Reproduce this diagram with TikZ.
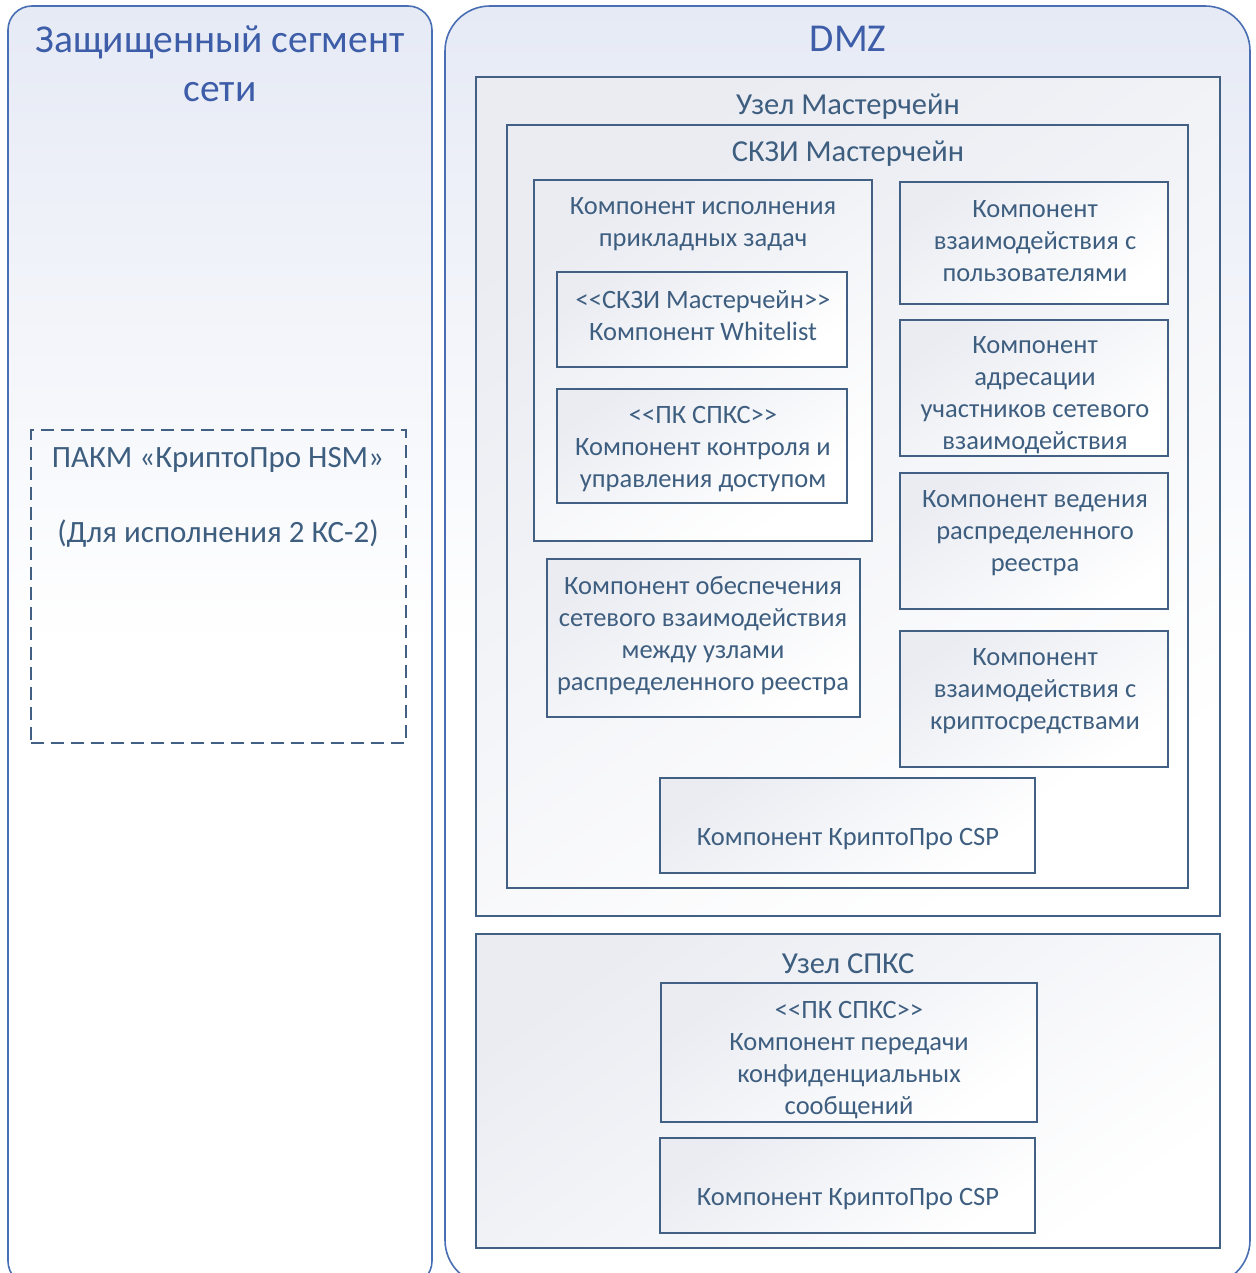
\documentclass[tikz,border=0pt]{standalone}
\usepackage{fontspec}
\setmainfont{Carlito}
\usepackage{tikz}
\usetikzlibrary{positioning}

\definecolor{segline}{RGB}{74,110,180}
\definecolor{segtitle}{RGB}{61,93,168}
\definecolor{segtop}{RGB}{230,234,245}
\definecolor{boxline}{RGB}{66,96,132}
\definecolor{boxtext}{RGB}{62,94,128}
\definecolor{boxgray}{RGB}{234,236,242}

\tikzset{
  segment/.style={draw=segline, line width=1.6pt, top color=segtop,
    bottom color=white, middle color=white, inner sep=0pt},
  nodebox/.style={draw=boxline, line width=1.6pt, top color=boxgray,
    bottom color=white, shading angle=35, inner sep=0pt},
  comp/.style={nodebox, minimum width=268pt, minimum height=136pt},
  txt/.style={text=boxtext, align=center, inner sep=0pt,
    font=\fontsize{26.5}{32}\selectfont},
  headtxt/.style={text=boxtext, align=center, inner sep=0pt,
    font=\fontsize{30.5}{36}\selectfont},
  segtxt/.style={text=segtitle, align=center, inner sep=0pt,
    font=\fontsize{39.5}{49}\selectfont}
}

\begin{document}
\begin{tikzpicture}[x=1pt,y=-1pt]
        \useasboundingbox (0,0) rectangle (1255,1273);
        \clip (0,0) rectangle (1255,1273);

        % segments
        \node[segment, rounded corners=24pt, minimum width=424pt, minimum height=1279pt] (protseg) at (220,645.5) {};
        \node[segment, rounded corners=45pt, minimum width=805pt, minimum height=1279pt] (dmz) at (847.5,645.5) {};
        \node[segtxt] (protsegtxt) at (220,64) {Защищенный сегмент\\сети};
        \node[segtxt] (dmztxt) at (848,39) {DMZ};

        % HSM
        \node[draw=boxline, line width=1.6pt, dash pattern=on 13pt off 7pt,
          minimum width=375pt, minimum height=313pt] (hsm) at (218.5,586.5) {};
        \node[txt, font=\fontsize{31}{37.5}\selectfont] (hsmtxt) at (218,497)
          {ПАКМ «КриптоПро HSM»\\[37.5pt](Для исполнения 2 КС-2)};

        % Masterchain node
        \node[nodebox, minimum width=744pt, minimum height=839pt] (mcnode) at (848,496.5) {};
        \node[headtxt] (mcnodetxt) at (848,107) {Узел Мастерчейн};
        \node[nodebox, minimum width=681pt, minimum height=763pt] (skzi) at (847.5,506.5) {};
        \node[headtxt] (skzitxt) at (848,154) {СКЗИ Мастерчейн};

        \node[nodebox, minimum width=338pt, minimum height=361pt] (exec) at (703,360.5) {};
        \node[txt] (exectxt) at (703,224) {Компонент исполнения\\прикладных задач};
        \node[nodebox, minimum width=290pt, minimum height=95pt] (wl) at (702,319.5) {};
        \node[txt] (wltxt) at (703,316) {<{}<СКЗИ Мастерчейн>{}>\\Компонент Whitelist};
        \node[nodebox, minimum width=290pt, minimum height=114pt] (acc) at (702,446) {};
        \node[txt] (acctxt) at (703,449) {<{}<ПК СПКС>{}>\\Компонент контроля и\\управления доступом};
        \node[nodebox, minimum width=313pt, minimum height=158pt] (net) at (703.5,638) {};
        \node[txt] (nettxt) at (703,635.5) {Компонент обеспечения\\сетевого взаимодействия\\между узлами\\распределенного реестра};

        \node[comp, minimum height=122pt] (users) at (1034,243) {};
        \node[txt] (userstxt) at (1035,241) {Компонент\\взаимодействия с\\пользователями};
        \node[comp] (addr) at (1034,388) {};
        \node[txt] (addrtxt) at (1035,395) {Компонент\\адресации\\участников сетевого\\взаимодействия};
        \node[comp] (ledger) at (1034,541) {};
        \node[txt] (ledgertxt) at (1035,533) {Компонент ведения\\распределенного\\реестра};
        \node[comp] (crypt) at (1034,699) {};
        \node[txt] (crypttxt) at (1035,691) {Компонент\\взаимодействия с\\криптосредствами};

        \node[nodebox, minimum width=375pt, minimum height=95pt] (csp1) at (847.5,825.5) {};
        \node[txt] (csp1txt) at (848,839) {Компонент КриптоПро CSP};

        % SPKS node
        \node[nodebox, minimum width=744pt, minimum height=314pt] (spks) at (848,1091) {};
        \node[headtxt] (spkstxt) at (848,964) {Узел СПКС};
        \node[nodebox, minimum width=376pt, minimum height=139pt] (msg) at (849,1052.5) {};
        \node[txt] (msgtxt) at (849,1060) {<{}<ПК СПКС>{}>\\Компонент передачи\\конфиденциальных\\сообщений};
        \node[nodebox, minimum width=375pt, minimum height=95pt] (csp2) at (847.5,1185.5) {};
        \node[txt] (csp2txt) at (848,1199) {Компонент КриптоПро CSP};
\end{tikzpicture}
\end{document}
